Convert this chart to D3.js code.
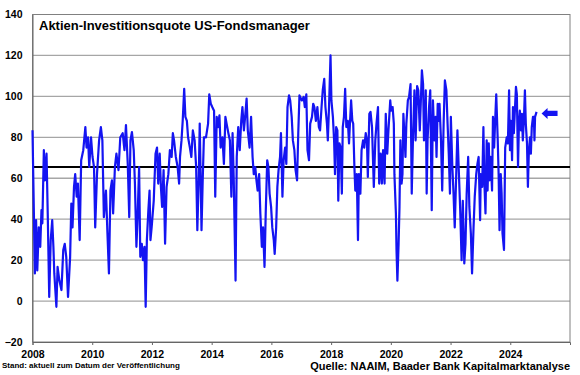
<!DOCTYPE html>
<html>
<head>
<meta charset="utf-8">
<script src="https://cdn.jsdelivr.net/npm/d3@7"></script>
<style>
  html, body { margin: 0; padding: 0; background: #fff; }
  svg { display: block; font-family: "Liberation Sans", Arial, sans-serif; }
</style>
</head>
<body>
<div id="chart"></div>
<script>
// NAAIM Exposure Index: [year, percent]
const q2008 = [
  [2008.00, 83.4], [2008.08, 13.5], [2008.12, 39.5], [2008.16, 15], [2008.21, 36], [2008.26, 26.5],
  [2008.30, 44.4], [2008.33, 38], [2008.38, 73.7], [2008.42, 59], [2008.47, 72], [2008.51, 42.8],
  [2008.56, 2], [2008.61, 29.8], [2008.66, 39.5], [2008.70, 26.5], [2008.73, 13.5], [2008.80, -2.8],
  [2008.84, 16.7], [2008.90, 10], [2008.97, 5.4], [2009.03, 25], [2009.08, 28], [2009.13, 21.6],
  [2009.19, 2], [2009.26, 21.6], [2009.30, 47.6], [2009.34, 36], [2009.39, 55.8], [2009.43, 62],
  [2009.48, 51], [2009.52, 57.4], [2009.58, 29.8], [2009.63, 68.8], [2009.70, 73.7], [2009.77, 85],
  [2009.81, 75], [2009.86, 80], [2009.90, 65.5], [2009.96, 80], [2010.01, 70.4], [2010.06, 65.5],
  [2010.10, 36], [2010.16, 62], [2010.23, 78.5], [2010.29, 85], [2010.34, 78.5], [2010.39, 41],
  [2010.46, 54], [2010.51, 33], [2010.56, 13.5], [2010.61, 54], [2010.66, 59], [2010.70, 42.8],
  [2010.76, 65.5], [2010.81, 72], [2010.88, 64], [2010.94, 80]
];
const q2011 = [
  [2011.02, 82], [2011.08, 73.7], [2011.13, 86], [2011.19, 67], [2011.24, 41], [2011.28, 78.5],
  [2011.33, 82.6], [2011.39, 73.7], [2011.43, 57.4], [2011.48, 26.5], [2011.52, 41], [2011.57, 65.5],
  [2011.61, 21.6], [2011.66, 28], [2011.70, 20], [2011.75, 26.5], [2011.79, -2.8], [2011.83, 29.8],
  [2011.88, 44.4], [2011.92, 54], [2011.95, 29.8], [2011.99, 36], [2012.06, 49], [2012.12, 72],
  [2012.17, 75], [2012.21, 57.4], [2012.26, 72], [2012.30, 55.8], [2012.34, 46], [2012.39, 64],
  [2012.44, 28], [2012.49, 55.8], [2012.55, 62], [2012.60, 73.7], [2012.66, 70.4], [2012.70, 82],
  [2012.74, 78.5], [2012.80, 70.4], [2012.86, 65.5], [2012.91, 57.4], [2012.94, 70.4], [2012.99, 78.5],
  [2013.03, 88], [2013.08, 103.7], [2013.12, 90], [2013.17, 88], [2013.21, 80], [2013.27, 75],
  [2013.32, 70.4], [2013.37, 83.4], [2013.43, 78.5], [2013.48, 65.5], [2013.52, 34.6], [2013.57, 62],
  [2013.60, 86.7], [2013.66, 34.6], [2013.70, 59], [2013.74, 80], [2013.81, 80], [2013.88, 86.7],
  [2013.92, 101]
];
const q2014 = [
  [2013.97, 96.4], [2014.02, 94.8], [2014.08, 93], [2014.12, 51], [2014.17, 90], [2014.21, 85],
  [2014.26, 90.7], [2014.30, 75], [2014.36, 80], [2014.41, 67], [2014.46, 90], [2014.50, 86.7],
  [2014.56, 82], [2014.61, 78.5], [2014.66, 51], [2014.70, 82], [2014.74, 59], [2014.80, 10],
  [2014.84, 70.4], [2014.89, 85], [2014.94, 73.7], [2014.99, 88], [2015.03, 94.8], [2015.08, 83.4],
  [2015.12, 90], [2015.17, 98.9], [2015.21, 83.4], [2015.27, 75], [2015.32, 90], [2015.37, 70.4],
  [2015.41, 62], [2015.46, 65.5], [2015.50, 59], [2015.54, 54], [2015.59, 62], [2015.63, 42.8],
  [2015.68, 26.5], [2015.72, 36], [2015.77, 16.7], [2015.81, 42.8], [2015.86, 68.8], [2015.90, 65.5],
  [2015.94, 52.5], [2015.99, 46], [2016.03, 36], [2016.08, 29.8], [2016.11, 23], [2016.16, 36],
  [2016.20, 55.8], [2016.24, 64], [2016.29, 70.4], [2016.32, 82], [2016.37, 51], [2016.41, 68.8],
  [2016.46, 75], [2016.50, 67], [2016.54, 94.8], [2016.59, 100.5], [2016.63, 98], [2016.68, 90],
  [2016.72, 78.5], [2016.77, 73.7], [2016.81, 64], [2016.86, 59], [2016.90, 82], [2016.94, 100.5]
];
const q2017 = [
  [2017.02, 98], [2017.08, 99.7], [2017.12, 94.8], [2017.17, 101], [2017.21, 73.7], [2017.26, 68.8],
  [2017.30, 86.7], [2017.36, 90], [2017.40, 96.4], [2017.44, 94.8], [2017.49, 88], [2017.54, 94.8],
  [2017.59, 85], [2017.63, 83.4], [2017.68, 94.8], [2017.72, 103], [2017.77, 108.6], [2017.81, 94.8],
  [2017.86, 86.7], [2017.89, 78.5], [2017.93, 94.8], [2017.98, 120], [2018.01, 98], [2018.06, 90],
  [2018.10, 78.5], [2018.13, 62], [2018.17, 85], [2018.21, 83.4], [2018.24, 49], [2018.28, 77],
  [2018.32, 75], [2018.36, 52.5], [2018.39, 85], [2018.43, 90], [2018.47, 103.7], [2018.51, 85],
  [2018.56, 88], [2018.60, 77], [2018.63, 86.7], [2018.67, 98], [2018.71, 88], [2018.74, 86.7],
  [2018.78, 65.5], [2018.81, 54], [2018.86, 62], [2018.90, 29.8], [2018.93, 62], [2018.98, 52.5],
  [2019.02, 73.7], [2019.07, 78.5], [2019.11, 75], [2019.16, 82], [2019.20, 78.5], [2019.23, 60.6],
  [2019.28, 91.5], [2019.32, 92.4], [2019.37, 85], [2019.40, 70.4], [2019.43, 55.8], [2019.48, 78.5],
  [2019.52, 86.7], [2019.57, 94.8], [2019.61, 57.4], [2019.66, 72], [2019.70, 57.4], [2019.74, 73.7],
  [2019.79, 57.4], [2019.83, 91.5], [2019.88, 72], [2019.92, 83.4], [2019.98, 98]
];
const q2020 = [
  [2020.01, 93], [2020.06, 94.8], [2020.10, 86.7], [2020.12, 62], [2020.17, 42.8], [2020.19, 25],
  [2020.22, 10], [2020.26, 28], [2020.29, 46], [2020.32, 78.5], [2020.36, 57.4], [2020.39, 62],
  [2020.42, 91.5], [2020.46, 80], [2020.49, 70.4], [2020.52, 86.7], [2020.57, 98], [2020.61, 99.7],
  [2020.66, 106], [2020.70, 52.5], [2020.74, 78.5], [2020.79, 103], [2020.83, 78.5], [2020.88, 105],
  [2020.92, 103], [2020.97, 83.4], [2021.01, 99.7], [2021.04, 112.7], [2021.08, 106], [2021.11, 78.5],
  [2021.14, 82], [2021.17, 103], [2021.20, 52.5], [2021.23, 78.5], [2021.28, 94.8], [2021.32, 103],
  [2021.37, 44.4], [2021.41, 98], [2021.46, 78.5], [2021.50, 90], [2021.53, 70.4], [2021.57, 96.4],
  [2021.60, 88], [2021.63, 96.4], [2021.68, 78.5], [2021.72, 54], [2021.77, 88], [2021.81, 107.8],
  [2021.86, 103], [2021.90, 86.7], [2021.94, 72], [2021.98, 52.5], [2022.01, 90], [2022.06, 65.5],
  [2022.10, 52.5], [2022.14, 36], [2022.19, 62], [2022.23, 83.4], [2022.28, 62], [2022.32, 46],
  [2022.37, 20], [2022.41, 49], [2022.46, 18.4], [2022.50, 28], [2022.54, 52.5], [2022.59, 70.4],
  [2022.63, 46], [2022.68, 33], [2022.72, 13.5], [2022.77, 36], [2022.81, 51], [2022.86, 62],
  [2022.90, 67], [2022.94, 70.4], [2022.99, 39.5]
];
const q2023 = [
  [2023.01, 62], [2023.06, 55.8], [2023.10, 85], [2023.13, 59], [2023.17, 42.8], [2023.21, 78.5],
  [2023.24, 54], [2023.28, 77], [2023.31, 59], [2023.34, 70.4], [2023.39, 54], [2023.42, 90],
  [2023.46, 75], [2023.49, 86.7], [2023.53, 101], [2023.58, 78.5], [2023.61, 62], [2023.64, 34.6],
  [2023.68, 62], [2023.71, 52.5], [2023.74, 33], [2023.79, 25], [2023.83, 75], [2023.88, 80],
  [2023.92, 77], [2023.96, 103], [2023.99, 73.7], [2024.02, 88], [2024.06, 68.8], [2024.09, 94.8],
  [2024.12, 82], [2024.16, 94.8], [2024.19, 104.6], [2024.22, 101], [2024.26, 65.5], [2024.29, 86.7],
  [2024.32, 93], [2024.36, 83.4], [2024.39, 91.5], [2024.42, 78.5], [2024.46, 90], [2024.49, 103],
  [2024.52, 86.7], [2024.56, 77], [2024.59, 55.8], [2024.62, 72], [2024.66, 80], [2024.69, 72],
  [2024.72, 85], [2024.76, 90], [2024.79, 90], [2024.81, 78.5], [2024.83, 90], [2024.88, 92.4]
];
const quote = [].concat(q2008, q2011, q2014, q2017, q2020, q2023);

const average = 65.5;
const xTicks = [2008, 2010, 2012, 2014, 2016, 2018, 2020, 2022, 2024];
const yTicks = [-20, 0, 20, 40, 60, 80, 100, 120, 140];

const W = 580, H = 375;
const plotL = 32.5, plotR = 570, plotT = 14.5, plotB = 342;

const svg = d3.select('#chart').append('svg')
  .attr('width', W)
  .attr('height', H);

const x = d3.scaleLinear().domain([2008, 2026]).range([plotL, plotR]);
const y = d3.scaleLinear().domain([-20, 140]).range([plotB, plotT]);

// gridlines
svg.append('g')
  .selectAll('line')
  .data(yTicks.slice(1, -1))
  .enter().append('line')
  .attr('x1', plotL).attr('x2', plotR)
  .attr('y1', d => y(d)).attr('y2', d => y(d))
  .attr('stroke', '#a6a6a6')
  .attr('stroke-width', 1.3);

// frame
svg.append('rect')
  .attr('x', plotL).attr('y', plotT)
  .attr('width', plotR - plotL).attr('height', plotB - plotT)
  .attr('fill', 'none')
  .attr('stroke', '#808080')
  .attr('stroke-width', 1);

// axes
const xAxis = d3.axisBottom(x).tickValues(xTicks).tickSize(3).tickFormat(d3.format('d'));
const yAxis = d3.axisLeft(y).tickValues(yTicks).tickSize(0).tickPadding(10);

const gx = svg.append('g')
  .attr('transform', `translate(0,${plotB})`)
  .call(xAxis);
gx.select('.domain').attr('stroke', '#666');
gx.selectAll('.tick line').attr('stroke', '#666');
gx.selectAll('text')
  .attr('font-family', '"Liberation Sans", Arial, sans-serif')
  .attr('font-size', '10.5px')
  .attr('font-weight', 'bold')
  .attr('fill', '#000')
  .attr('y', 5)
  .attr('dy', '1em');

const gy = svg.append('g')
  .attr('transform', `translate(${plotL},0)`)
  .call(yAxis);
gy.select('.domain').attr('stroke', '#666');
gy.selectAll('text')
  .attr('font-family', '"Liberation Sans", Arial, sans-serif')
  .attr('font-size', '10.5px')
  .attr('font-weight', 'bold')
  .attr('fill', '#000');

// average line
svg.append('line')
  .attr('x1', plotL).attr('x2', plotR)
  .attr('y1', y(average)).attr('y2', y(average))
  .attr('stroke', '#000')
  .attr('stroke-width', 2);

// series
const line = d3.line()
  .x(d => x(d[0]))
  .y(d => y(d[1]));

svg.append('path')
  .datum(quote)
  .attr('d', line)
  .attr('fill', 'none')
  .attr('stroke', '#1414f2')
  .attr('stroke-width', 2.2)
  .attr('stroke-linejoin', 'round');

// arrow pointing at the latest value
const last = quote[quote.length - 1];
const tx = x(last[0]) + 5, ty = y(last[1]) + 1.5;
svg.append('path')
  .attr('d', `M${tx},${ty} L${tx + 6},${ty - 5.5} L${tx + 6},${ty - 2.6} L${tx + 16},${ty - 2.6}
              L${tx + 16},${ty + 2.6} L${tx + 6},${ty + 2.6} L${tx + 6},${ty + 5.5} Z`)
  .attr('fill', '#1414f2');

// title
svg.append('text')
  .attr('x', 39).attr('y', 30)
  .attr('font-size', '13px')
  .attr('font-weight', 'bold')
  .text('Aktien-Investitionsquote US-Fondsmanager');

// footer
svg.append('text')
  .attr('x', 2).attr('y', 368)
  .attr('font-size', '8px')
  .attr('font-weight', 'bold')
  .text('Stand: aktuell zum Datum der Veröffentlichung');

svg.append('text')
  .attr('x', 570).attr('y', 370)
  .attr('text-anchor', 'end')
  .attr('font-size', '11px')
  .attr('font-weight', 'bold')
  .text('Quelle: NAAIM, Baader Bank Kapitalmarktanalyse');
</script>
</body>
</html>
